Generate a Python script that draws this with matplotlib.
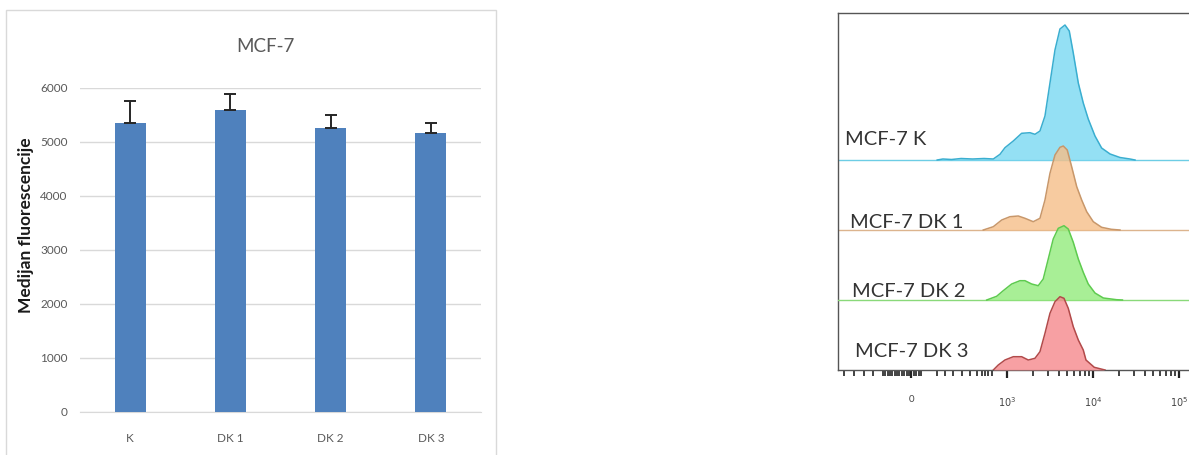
import numpy as np
import matplotlib
matplotlib.use("Agg")
import matplotlib.pyplot as plt
from matplotlib.patches import Rectangle
from matplotlib.ticker import FixedLocator, FixedFormatter

plt.rcParams['font.family'] = ['Lato', 'DejaVu Sans']

# bar chart data
categories = ['K', 'DK 1', 'DK 2', 'DK 3']
medians = [5350, 5590, 5260, 5160]
errors = [400, 285, 230, 185]

# flow cytometry histograms (fluorescence, counts)
hist_labels = ['MCF-7 K', 'MCF-7 DK 1', 'MCF-7 DK 2', 'MCF-7 DK 3']
k_x = [270, 330, 420, 520, 640, 760, 857, 927, 979, 1184, 1482, 1851, 2116, 2419, 2766,
       3162, 3615, 4130, 4725, 5300, 5900, 6750, 7710, 8810, 10550, 12600, 15800, 20600, 26900, 30800]
k_y = [0, 1, 0.5, 1.5, 1, 1.5, 1, 5.7, 12.3, 19, 26.7, 27.3, 25.7, 29, 44,
       77, 110, 131, 135, 129, 107, 77, 57, 41, 24, 12, 6, 2.5, 1, 0]
dk1_x = [752, 857, 945, 1083, 1353, 1620, 2020, 2419, 2766, 3162, 3615, 4130, 4515, 5020,
         5650, 6470, 7390, 8450, 10080, 12600, 16300, 20600]
dk1_y = [0, 3.3, 10, 13.3, 14, 11.7, 8.3, 11.7, 30, 56.7, 75, 82.7, 84, 80,
         63.3, 43.3, 30, 18.3, 8.3, 2.7, 0.7, 0]
dk2_x = [788, 892, 961, 1134, 1416, 1620, 1937, 2310, 2640, 3020, 3450, 3950, 4600, 5160,
         5900, 6750, 7710, 8810, 10550, 13200, 18800, 22000]
dk2_y = [0, 3.7, 9.3, 16, 19.3, 19.3, 16, 14.3, 21, 41, 61, 71.7, 74.3, 71,
         57.7, 41, 27.7, 16, 7, 2, 0.3, 0]
dk3_x = [857, 909, 979, 1184, 1482, 1769, 2116, 2419, 2766, 3162, 3615, 4130, 4600, 5160,
         5900, 6750, 7710, 8290, 10350, 13800]
dk3_y = [0, 5, 10, 13.3, 13.3, 10, 11.7, 18.3, 36.7, 56.7, 68.3, 73.3, 71.7, 61.7,
         43.3, 30, 20, 10, 2.7, 0]

W, H = 1189, 455
fig = plt.figure(figsize=(W / 100, H / 100), dpi=100)

def px_axes(x0, y0, x1, y1):
    return fig.add_axes([x0 / W, 1 - y1 / H, (x1 - x0) / W, (y1 - y0) / H])

# ---- left panel: excel style bar chart
fig.add_artist(Rectangle((6 / W, -10 / H), 490 / W, (455 - 10 + 10) / H, transform=fig.transFigure,
                         fill=False, edgecolor='#d9d9d9', lw=1, clip_on=False))
ax = px_axes(80, 87.7, 481, 411.7)
xpos = np.arange(len(categories))
ax.bar(xpos, medians, width=0.31, color='#4f81bd', zorder=3)
ax.errorbar(xpos, medians, yerr=[np.zeros(len(errors)), errors], fmt='none',
            ecolor='#262626', elinewidth=1.4, capsize=4.5, capthick=1.4, zorder=4)
ax.set_xlim(-0.5, len(categories) - 0.5)
ax.set_ylim(0, 6000)
ax.set_yticks(range(0, 6001, 1000))
ax.yaxis.grid(True, color='#d9d9d9', lw=1)
ax.set_axisbelow(True)
for s in ['top', 'right', 'left']:
    ax.spines[s].set_visible(False)
ax.spines['bottom'].set_color('#d9d9d9')
ax.set_xticks(xpos)
ax.set_xticklabels(categories)
ax.tick_params(axis='both', length=0, labelsize=8.5, labelcolor='#595959')
ax.tick_params(axis='y', pad=9)
ax.tick_params(axis='x', pad=15)
fig.text(265 / W, 1 - 47 / H, 'MCF-7', ha='center', va='center', fontsize=13.5, color='#595959')
fig.text(26 / W, 1 - 225 / H, 'Medijan fluorescencije', rotation=90, ha='center', va='center',
         fontsize=12.5, fontweight='bold', color='#1a1a1a')

# ---- right panel: overlaid histograms
ax2 = px_axes(838, 13, 1189, 370)
ax2.set_xscale('symlog', linthresh=1000, linscale=1.0)
lane = 70
fills = ['#7ad9f2', '#f6bf88', '#92ec7c', '#f5888c']
edges = ['#3aaed0', '#c8976a', '#5ecb4f', '#b24a4a']
bases = ['#6dcde5', '#dcb48e', '#8ad97a', '#444444']
series = [(k_x, k_y), (dk1_x, dk1_y), (dk2_x, dk2_y), (dk3_x, dk3_y)]
label_base = [225, 141.7, 73.3, 12.7]
label_x = [845, 850, 852, 855]
for i, (xs, ys) in enumerate(series):
    off = lane * (3 - i)
    if i < 3:
        ax2.axhline(off, color=bases[i], lw=1, zorder=1 + i)
    ax2.fill_between(xs, off, np.array(ys) + off, color=fills[i], alpha=0.8, lw=0, zorder=2 + i)
    ax2.plot(xs, np.array(ys) + off, color=edges[i], lw=1.1, zorder=2 + i)
    ax2.text((label_x[i] - 838) / 351, label_base[i], hist_labels[i], transform=ax2.get_yaxis_transform(),
             ha='left', va='baseline', fontsize=14.5, color='#333333', zorder=10)

xmin = -768
xmax = 1000 * 10 ** ((1189 - 1007) / 86)
ax2.set_xlim(xmin, xmax)
ax2.set_ylim(0, 357)
ax2.set_yticks([])
ax2.spines['right'].set_visible(False)
for s in ['top', 'left', 'bottom']:
    ax2.spines[s].set_color('#555555')
    ax2.spines[s].set_linewidth(1)
ax2.xaxis.set_major_locator(FixedLocator([0, 1e3, 1e4, 1e5]))
ax2.xaxis.set_major_formatter(FixedFormatter(['0', '$10^3$', '$10^4$', '$10^5$']))
minor = [-700, -600, -500, -400] + list(range(-300, 101, 25))
minor += [270, 350, 435, 530, 610, 685, 740, 770, 800, 840]
minor += [m * 1e3 for m in range(2, 10)] + [m * 1e4 for m in range(2, 10)]
ax2.xaxis.set_minor_locator(FixedLocator(minor))
ax2.tick_params(axis='x', which='major', length=6, width=1.6, color='#222222', labelsize=7,
                labelcolor='#444444', pad=12)
ax2.tick_params(axis='x', which='minor', length=4, width=1.2, color='#222222')

fig.savefig('out.png', dpi=100)
